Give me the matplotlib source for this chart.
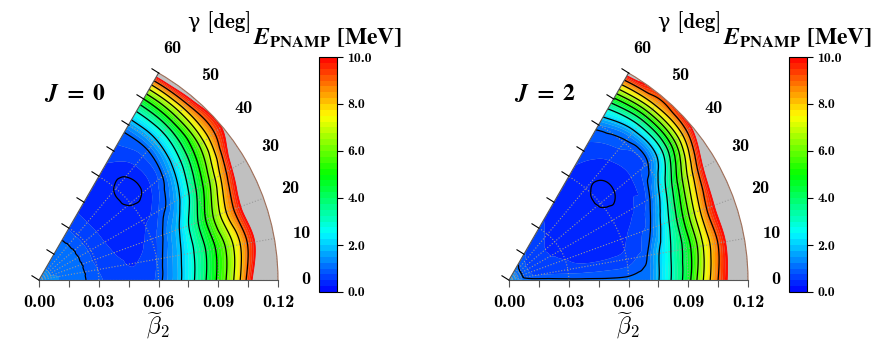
import numpy as np
import matplotlib
matplotlib.use('Agg')
import matplotlib.pyplot as plt
import matplotlib.tri as mtri
from matplotlib.colors import LinearSegmentedColormap
from matplotlib.markers import MarkerStyle
from matplotlib.transforms import Affine2D

plt.rcParams['mathtext.fontset'] = 'cm'

# grid nodes
beta = [0.0, 0.01, 0.02, 0.03, 0.04, 0.05, 0.06, 0.065, 0.07, 0.075,
        0.08, 0.085, 0.09, 0.095, 0.10, 0.105, 0.11, 0.115, 0.12]
gamma = [0, 10, 20, 30, 40, 50, 60]

# E_PNAMP [MeV], one row per gamma, columns follow beta
E_J0 = [
    [1.35, 1.25, 1.1, 0.8, 0.6, 0.55, 0.85, 1.3, 1.8, 2.5, 3.33, 4.2, 5.2, 6.25, 7.67, 9.33, 11.0, 12.5, 14.0],
    [1.35, 1.25, 1.1, 0.75, 0.55, 0.5, 0.75, 1.2, 1.7, 2.33, 3.17, 4.0, 5.0, 6.0, 7.25, 8.67, 10.0, 11.5, 13.0],
    [1.35, 1.2, 1.1, 0.7, 0.5, 0.45, 0.6, 0.9, 1.44, 2.0, 3.0, 4.0, 5.25, 6.5, 8.0, 9.25, 10.6, 12.0, 13.5],
    [1.35, 1.2, 1.1, 0.7, 0.47, 0.42, 0.44, 0.52, 0.8, 1.13, 1.75, 2.6, 3.75, 5.0, 6.33, 8.0, 9.43, 11.0, 12.5],
    [1.35, 1.2, 1.1, 0.7, 0.46, 0.38, 0.29, 0.28, 0.36, 0.6, 0.9, 1.57, 2.4, 3.5, 4.75, 6.0, 7.67, 9.0, 10.1],
    [1.35, 1.2, 1.1, 0.7, 0.46, 0.38, 0.29, 0.28, 0.34, 0.5, 0.7, 1.0, 1.71, 2.6, 3.86, 5.33, 7.0, 8.83, 10.5],
    [1.35, 1.2, 1.1, 0.72, 0.48, 0.42, 0.42, 0.45, 0.55, 0.65, 0.8, 0.95, 1.57, 2.4, 3.57, 5.0, 6.8, 8.8, 11.0],
]
E_J2 = [
    [1.6, 1.15, 1.08, 1.05, 1.05, 1.05, 1.08, 1.12, 1.15, 1.95, 2.78, 3.6, 4.65, 6.2, 7.72, 9.0, 10.1, 11.3, 12.5],
    [1.6, 0.85, 0.7, 0.6, 0.55, 0.55, 0.6, 0.75, 0.95, 1.75, 2.58, 3.42, 4.33, 5.67, 7.33, 8.62, 9.9, 11.2, 12.5],
    [1.6, 0.8, 0.6, 0.5, 0.45, 0.42, 0.45, 0.55, 0.7, 0.93, 1.8, 2.89, 4.12, 5.67, 7.33, 8.86, 10.1, 11.4, 12.7],
    [1.6, 0.8, 0.55, 0.46, 0.4, 0.37, 0.36, 0.38, 0.45, 0.6, 0.8, 1.56, 2.75, 4.14, 5.83, 7.5, 9.17, 10.8, 12.5],
    [1.6, 0.8, 0.55, 0.46, 0.4, 0.36, 0.29, 0.27, 0.31, 0.37, 0.5, 0.7, 0.88, 1.6, 2.86, 4.6, 6.6, 8.5, 10.2],
    [1.6, 0.85, 0.6, 0.48, 0.41, 0.37, 0.32, 0.31, 0.34, 0.42, 0.55, 0.72, 0.9, 1.4, 2.57, 4.17, 6.2, 8.2, 9.4],
    [1.6, 0.95, 0.7, 0.55, 0.46, 0.42, 0.42, 0.48, 0.55, 0.65, 0.75, 0.88, 1.25, 2.1, 3.2, 4.83, 6.8, 8.67, 10.6],
]
panels = ['$\\mathbfit{J}\\ \\mathbf{=\\ 0}$', '$\\mathbfit{J}\\ \\mathbf{=\\ 2}$']

r_major = [0.0, 0.03, 0.06, 0.09, 0.12]
r_minor = [0.015, 0.045, 0.075, 0.105]
g_major = [0, 10, 20, 30, 40, 50, 60]
g_minor = [5, 15, 25, 35, 45, 55]
cb_ticks = [0, 2, 4, 6, 8, 10]

fill_levels = np.linspace(0, 10, 41)
line_levels = [0.3, 1, 2, 3, 4, 5, 6, 7, 8, 9]
cmap = LinearSegmentedColormap.from_list(
    'bcgyr', ['#0000ff', '#00ffff', '#00ff00', '#ffff00', '#ff0000'])

W, H = 890, 340
fig = plt.figure(figsize=(W / 100, H / 100), dpi=100)

# table -> smooth surface with matplotlib's cubic triangle interpolator (scaled coords)
G, B = np.meshgrid(gamma, beta)
base = mtri.Triangulation((G / 60.0).ravel(), (B / 0.12).ravel())
gq, bq = np.meshgrid(np.linspace(1e-6, 1 - 1e-6, 121), np.linspace(1e-6, 1 - 1e-6, 241))

tick_bottom = MarkerStyle(3)
tick_edge = MarkerStyle(3, transform=Affine2D().rotate_deg(-120))

for k, (E, name) in enumerate(zip([E_J0, E_J2], panels)):
    x0 = 39 + 470 * k
    ax = fig.add_axes([(x0 - 18.5) / W, (H - 296) / H, 276 / W, 239 / H], projection='polar')
    ax.set_facecolor('#c0c0c0')

    interp = mtri.CubicTriInterpolator(base, np.array(E).T.ravel(), kind='geom')
    zq = interp(gq, bq)
    TH, R = np.radians(gq * 60.0), bq * 0.12
    cf = ax.contourf(TH, R, zq, levels=fill_levels, cmap=cmap, antialiased=True)
    ax.contour(TH, R, zq, levels=[10], colors='#ff0000', linewidths=0.6)
    ax.contour(TH, R, zq, levels=line_levels, colors='k', linewidths=0.9)

    ax.set_thetamin(0)
    ax.set_thetamax(60)
    ax.set_rlim(0, 0.12)
    ax.set_xticks(np.radians(g_major))
    ax.set_xticklabels([str(g) for g in g_major])
    ax.set_xticks(np.radians(g_minor), minor=True)
    ax.set_yticks(r_major)
    ax.set_yticklabels(['%.2f' % r for r in r_major])
    ax.tick_params(axis='x', which='both', direction='out', length=5, pad=8,
                   labelsize=13, labelfontfamily='cmb10')
    ax.tick_params(axis='y', which='both', length=0, pad=11,
                   labelsize=13, labelfontfamily='cmb10')
    ax.grid(True, linestyle=':', color='#999999', linewidth=0.8)
    for s in ax.spines.values():
        s.set_color('#555555')
        s.set_linewidth(0.8)
    ax.spines['polar'].set_color('#a0705a')

    # radial ticks on both straight edges, pointing outward
    r_all = r_major + r_minor
    ax.plot(np.zeros(len(r_all)), r_all, ls='none', marker=tick_bottom, ms=5,
            mec='#555555', mew=0.8, clip_on=False, zorder=5)
    ax.plot(np.full(len(r_all), np.pi / 3), r_all, ls='none', marker=tick_edge, ms=7,
            mec='k', mew=0.8, clip_on=False, zorder=5)

    fig.text((x0 + 5) / W, 1 - 100 / H, name, fontsize=17, math_fontfamily='stix')
    fig.text((x0 + 119) / W, 1 - 326 / H, r'$\widetilde{\beta}_2$', fontsize=17,
             ha='center', va='center')
    fig.text((x0 + 181) / W, 1 - 22 / H, 'γ [deg]', fontsize=15, ha='center', va='center',
             family=['cmb10', 'DejaVu Serif'])

    cax = fig.add_axes([(x0 + 280) / W, (H - 292) / H, 18 / W, 235 / H])
    cb = fig.colorbar(cf, cax=cax, ticks=cb_ticks)
    cb.ax.set_yticklabels(['%.1f' % t for t in cb_ticks])
    cb.ax.tick_params(direction='out', length=4, labelsize=10, labelfontfamily='cmb10')
    fig.text((x0 + 289) / W, 1 - 38 / H,
             r'$\mathbfit{E}_{\mathbf{PNAMP}}\ \mathbf{[MeV]}$',
             fontsize=17, ha='center', va='center', math_fontfamily='stix')

fig.savefig('out.png', dpi=100)
